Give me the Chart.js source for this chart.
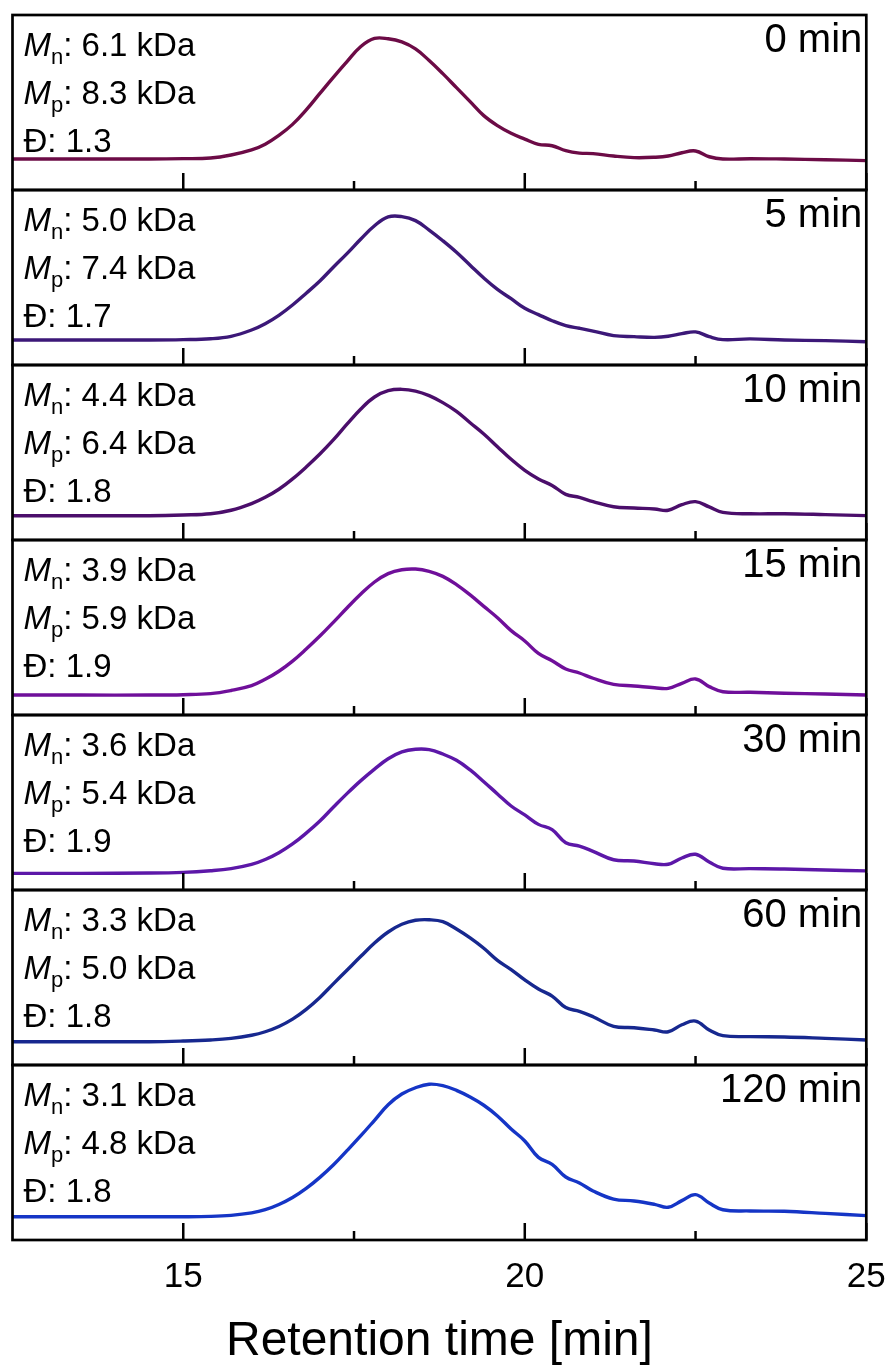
<!DOCTYPE html>
<html>
<head>
<meta charset="utf-8">
<script src="https://cdn.jsdelivr.net/npm/chart.js@4.4.1/dist/chart.umd.min.js"></script>
<style>
  html, body { margin: 0; padding: 0; background: #ffffff; }
  #wrap { width: 892px; height: 1371px; }
</style>
</head>
<body>
<div id="wrap"><canvas id="gpc" width="892" height="1371"></canvas></div>
<script>
// Retention time grid [min] shared by all GPC traces
const retentionTime = [12.5, 13.5, 14.5, 15.0, 15.4, 15.7, 16.0, 16.2, 16.4, 16.6, 16.8, 17.0, 17.2, 17.4, 17.6, 17.8, 18.0, 18.2, 18.4, 18.6, 18.8, 19.0, 19.2, 19.4, 19.6, 19.8, 20.0, 20.2, 20.4, 20.6, 20.8, 21.0, 21.3, 21.6, 21.9, 22.1, 22.3, 22.5, 22.7, 22.9, 23.3, 23.8, 24.4, 25.0];

// Detector signal (offset, normalised to panel height) for each reaction time
const trace0min = [.177, .177, .177, .179, .183, .200, .229, .262, .312, .375, .458, .552, .645, .735, .820, .866, .864, .846, .806, .740, .665, .585, .505, .425, .368, .324, .291, .261, .253, .225, .211, .208, .194, .185, .187, .194, .213, .223, .190, .177, .179, .177, .173, .168];
const trace5min = [.143, .143, .143, .145, .150, .164, .200, .236, .284, .343, .410, .480, .560, .638, .720, .796, .846, .848, .825, .771, .710, .644, .570, .497, .432, .379, .324, .288, .253, .225, .210, .194, .168, .162, .158, .164, .179, .189, .162, .145, .149, .143, .139, .133];
const trace10min = [.139, .139, .139, .143, .150, .170, .208, .244, .290, .349, .417, .491, .573, .663, .749, .817, .853, .861, .851, .825, .785, .735, .670, .606, .533, .461, .398, .349, .312, .261, .244, .219, .190, .183, .177, .170, .202, .219, .189, .158, .150, .150, .145, .139];
const trace15min = [.114, .114, .114, .116, .122, .140, .168, .204, .250, .308, .377, .451, .531, .613, .691, .760, .808, .830, .834, .821, .792, .745, .686, .621, .556, .482, .423, .352, .310, .263, .240, .210, .175, .166, .156, .152, .181, .206, .162, .133, .130, .124, .120, .114];
const trace30min = [.095, .095, .097, .101, .110, .122, .146, .174, .213, .263, .325, .394, .474, .552, .625, .691, .750, .789, .804, .802, .777, .741, .686, .619, .549, .480, .429, .375, .345, .270, .251, .221, .173, .166, .150, .147, .183, .204, .160, .124, .122, .120, .114, .109];
const trace60min = [.133, .133, .133, .137, .143, .152, .170, .190, .220, .262, .318, .386, .465, .543, .621, .697, .760, .804, .827, .830, .819, .777, .726, .667, .598, .545, .486, .434, .394, .328, .307, .276, .221, .213, .200, .190, .230, .251, .200, .168, .162, .160, .152, .143];
const trace120min = [.133, .133, .133, .133, .135, .141, .155, .173, .203, .243, .295, .358, .430, .512, .596, .684, .773, .834, .870, .890, .882, .855, .817, .770, .709, .634, .566, .472, .432, .360, .326, .280, .234, .223, .204, .187, .225, .259, .211, .173, .166, .164, .152, .139];

const traces = [trace0min, trace5min, trace10min, trace15min, trace30min, trace60min, trace120min];

// Panel annotations
const sampleTimes = ['0 min', '5 min', '10 min', '15 min', '30 min', '60 min', '120 min'];
const mnKDa = ['6.1', '5.0', '4.4', '3.9', '3.6', '3.3', '3.1'];
const mpKDa = ['8.3', '7.4', '6.4', '5.9', '5.4', '5.0', '4.8'];
const dispersity = ['1.3', '1.7', '1.8', '1.9', '1.9', '1.8', '1.8'];

// Axis ticks [min]
const majorTicks = [15, 20, 25];
const minorTicks = [17.5, 22.5];

const lineColors = ['#6c0b46', '#3c1878', '#4b0e6b', '#6f0f9a', '#5c17a8', '#17288f', '#1535c6'];
const FONT = '"Liberation Sans", Arial, sans-serif';

const scales = {
  x: {
    type: 'linear',
    min: 12.5,
    max: 25,
    afterBuildTicks: (s) => { s.ticks = majorTicks.map(v => ({ value: v })); },
    afterFit: (s) => {
      s.height = 131;
      s.paddingLeft = 0; s.paddingRight = 0; s.paddingTop = 0; s.paddingBottom = 0;
    },
    ticks: {
      font: { family: FONT, size: 35 },
      color: '#000',
      padding: 16,
      maxRotation: 0,
      autoSkip: false
    },
    grid: { display: false, drawTicks: false },
    border: { display: false },
    title: {
      display: true,
      text: 'Retention time [min]',
      font: { family: FONT, size: 48 },
      color: '#000',
      padding: { top: 0, bottom: 0 }
    }
  }
};

traces.forEach((_, i) => {
  scales['y' + i] = {
    type: 'linear',
    position: 'left',
    stack: 'panels',
    stackWeight: 1,
    weight: 20 - i,
    min: 0,
    max: 1,
    display: true,
    ticks: { display: false },
    grid: { display: false, drawTicks: false },
    border: { display: false }
  };
});

const datasets = traces.map((tr, i) => ({
  label: sampleTimes[i],
  data: retentionTime.map((t, j) => ({ x: t, y: tr[j] })),
  yAxisID: 'y' + i,
  borderColor: lineColors[i],
  borderWidth: 3.4,
  pointRadius: 0,
  fill: false,
  tension: 0.4
}));

// Frames, inward bottom ticks and text for every stacked panel
const panelDecor = {
  id: 'panelDecor',
  afterDatasetsDraw(chart) {
    const ctx = chart.ctx;
    const xs = chart.scales.x;
    const area = chart.chartArea;
    ctx.save();
    ctx.strokeStyle = '#000';
    ctx.fillStyle = '#000';
    traces.forEach((_, i) => {
      const ys = chart.scales['y' + i];
      const top = ys.top, bottom = ys.bottom;

      // inward ticks along the bottom edge
      ctx.lineWidth = 2.5;
      ctx.beginPath();
      majorTicks.forEach(v => {
        const px = xs.getPixelForValue(v);
        ctx.moveTo(px, bottom);
        ctx.lineTo(px, bottom - 17);
      });
      minorTicks.forEach(v => {
        const px = xs.getPixelForValue(v);
        ctx.moveTo(px, bottom);
        ctx.lineTo(px, bottom - 9);
      });
      ctx.stroke();

      // frame
      ctx.lineWidth = 2.7;
      ctx.strokeRect(area.left, top, area.right - area.left, bottom - top);

      // sample time label
      ctx.textBaseline = 'alphabetic';
      ctx.textAlign = 'right';
      ctx.font = '40px ' + FONT;
      ctx.fillText(sampleTimes[i], area.right - 4, top + 37);

      // molar mass labels with subscripts
      ctx.textAlign = 'left';
      const x0 = area.left + 11;
      const rows = [
        { sym: 'M', sub: 'n', text: ': ' + mnKDa[i] + ' kDa', dy: 41 },
        { sym: 'M', sub: 'p', text: ': ' + mpKDa[i] + ' kDa', dy: 89 }
      ];
      rows.forEach(r => {
        let x = x0;
        const base = top + r.dy;
        ctx.font = 'italic 33px ' + FONT;
        ctx.fillText(r.sym, x, base);
        x += ctx.measureText(r.sym).width;
        ctx.font = '22px ' + FONT;
        ctx.fillText(r.sub, x, base + 8);
        x += ctx.measureText(r.sub).width;
        ctx.font = '33px ' + FONT;
        ctx.fillText(r.text, x, base);
      });
      ctx.font = '33px ' + FONT;
      ctx.fillText('\u0110: ' + dispersity[i], x0, top + 137);
    });
    ctx.restore();
  }
};

new Chart(document.getElementById('gpc'), {
  type: 'line',
  data: { datasets },
  options: {
    responsive: false,
    animation: false,
    devicePixelRatio: 1,
    layout: { padding: { left: 12.5, right: 25.7, top: 15, bottom: 0 } },
    plugins: { legend: { display: false }, tooltip: { enabled: false } },
    scales
  },
  plugins: [panelDecor]
});
</script>
</body>
</html>
